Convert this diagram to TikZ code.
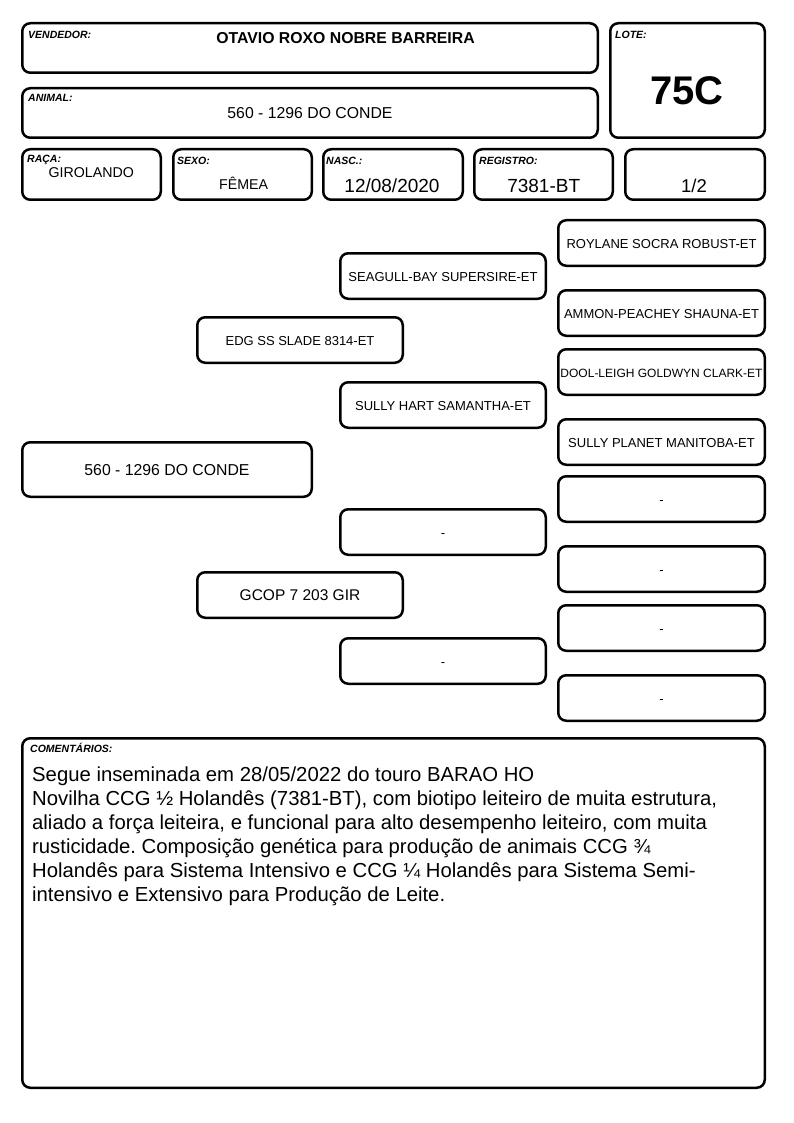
\documentclass[tikz,border=0pt]{standalone}
\usepackage{fontspec}
\setmainfont{Liberation Sans}
\frenchspacing
\newcommand\fsz[1]{\fontsize{#1}{#1}\selectfont}
\newcommand\mybox[7]{%
  \node[box, minimum width={(#4-#2-2.5)*1pt}, minimum height={(#5-#3-2.5)*1pt}, font=#6]
    (#1) at ({(#2+#4)/2},{(#3+#5)/2}) {#7};}
\tikzset{
  box/.style={draw, line width=2.5pt, rounded corners=8pt, inner sep=0pt, align=center,
    text height=0.716em+4pt, text depth=0pt},
  lab/.style={font=\bfseries\itshape\fsz{10.5}, inner sep=0pt, anchor=base west},
  val/.style={inner sep=0pt, anchor=base},
}
\begin{document}
\begin{tikzpicture}[x=1pt,y=-1pt]
\useasboundingbox (0,0) rectangle (794,1123);
% header boxes
\mybox{vend}{21}{22}{599}{74}{}{}
\mybox{lote}{609}{22}{766}{139}{}{}
\mybox{anim}{21}{87}{599}{139}{}{}
\mybox{raca}{21}{148}{162}{201}{}{}
\mybox{sexo}{172}{148}{313}{201}{}{}
\mybox{nasc}{322}{148}{464}{201}{}{}
\mybox{regi}{473}{148}{614}{201}{}{}
\mybox{frac}{624}{148}{766}{201}{}{}
% header labels
\node[lab] (lvend) at (28,39) {VENDEDOR:};
\node[lab] (llote) at (615,39) {LOTE:};
\node[lab] (lanim) at (28,102) {ANIMAL:};
\node[lab] (lraca) at (27,162.5) {RAÇA:};
\node[lab] (lsexo) at (177,164.5) {SEXO:};
\node[lab] (lnasc) at (326,164.5) {NASC.:};
\node[lab] (lregi) at (479,164.5) {REGISTRO:};
\node[lab] (lcom) at (30,752) {COMENTÁRIOS:};
% header values
\node[val, font=\bfseries\fsz{15.8}] (tvend) at (345.5,44) {OTAVIO ROXO NOBRE BARREIRA};
\node[val, font=\bfseries\fsz{40}] (tlote) at (687,105) {75C};
\node[val, font=\fsz{15.8}] (tanim) at (310,119) {560 - 1296 DO CONDE};
\node[val, font=\fsz{14.2}] (traca) at (91.3,178) {GIROLANDO};
\node[val, font=\fsz{14.2}] (tsexo) at (243.7,189.3) {FÊMEA};
\node[val, font=\fsz{19}] (tnasc) at (392,193) {12/08/2020};
\node[val, font=\fsz{19}] (tregi) at (543.7,193) {7381-BT};
\node[val, font=\fsz{18.5}] (tfrac) at (694,193) {1/2};
% pedigree
\mybox{animal}{21}{441}{313}{498}{\fsz{15.8}}{560 - 1296 DO CONDE}
\mybox{sire}{196}{316}{404}{364}{\fsz{13}}{EDG SS SLADE 8314-ET}
\mybox{dam}{196}{571}{404}{619}{\fsz{15.5}}{GCOP 7 203 GIR}
\mybox{ss}{339}{252}{547}{300}{\fsz{13}}{SEAGULL-BAY SUPERSIRE-ET}
\mybox{sd}{339}{381}{547}{429}{\fsz{13}}{SULLY HART SAMANTHA-ET}
\mybox{ds}{339}{508}{547}{556}{\fsz{13}}{-}
\mybox{dd}{339}{637}{547}{685}{\fsz{13}}{-}
\mybox{sss}{557}{219}{766}{267}{\fsz{13}}{ROYLANE SOCRA ROBUST-ET}
\mybox{ssd}{557}{289}{766}{337}{\fsz{13}}{AMMON-PEACHEY SHAUNA-ET}
\mybox{sds}{557}{348}{766}{396}{\fsz{12}}{DOOL-LEIGH GOLDWYN CLARK-ET}
\mybox{sdd}{557}{418}{766}{466}{\fsz{13}}{SULLY PLANET MANITOBA-ET}
\mybox{dss}{557}{475}{766}{523}{\fsz{13}}{-}
\mybox{dsd}{557}{545}{766}{593}{\fsz{13}}{-}
\mybox{dds}{557}{604}{766}{652}{\fsz{13}}{-}
\mybox{ddd}{557}{674}{766}{722}{\fsz{13}}{-}
% comments
\mybox{com}{21}{737}{766}{1089}{}{}
\node[inner sep=0pt, anchor=base west, align=left, font=\fontsize{20.3}{24.1}\selectfont] (tcom) at (32,901.5)
{Segue inseminada em 28/05/2022 do touro BARAO HO\\
Novilha CCG ½ Holandês (7381-BT), com biotipo leiteiro de muita estrutura,\\
aliado a força leiteira, e funcional para alto desempenho leiteiro, com muita\\
rusticidade. Composição genética para produção de animais CCG ¾\\
Holandês para Sistema Intensivo e CCG ¼ Holandês para Sistema Semi-\\
intensivo e Extensivo para Produção de Leite.};
\end{tikzpicture}
\end{document}
